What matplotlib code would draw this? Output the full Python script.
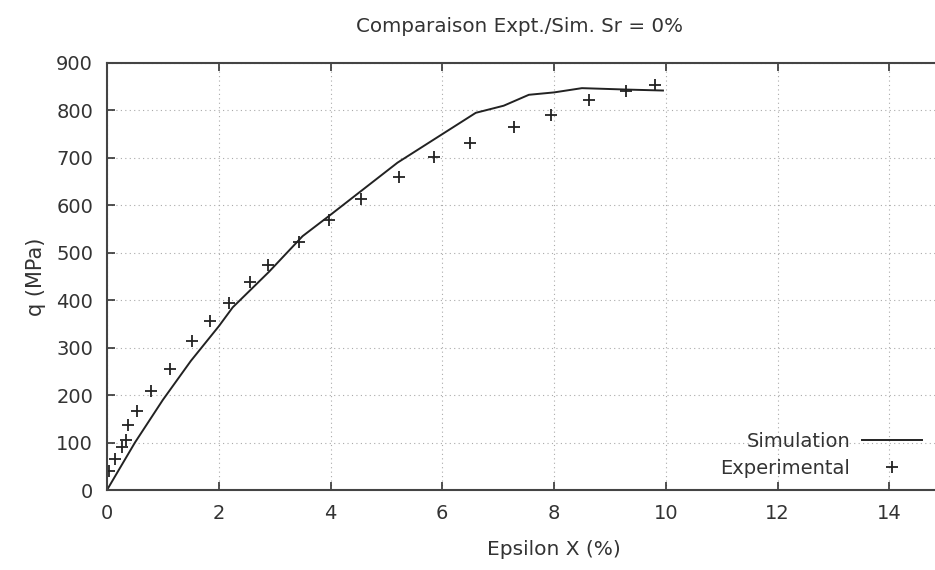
import matplotlib.pyplot as plt

sim_eps = [0, 0.5, 1.0, 1.5, 2.0, 2.25, 2.9, 3.5, 4.0, 4.6, 5.2, 5.8, 6.6, 7.1, 7.55, 8.0, 8.5, 9.3, 9.95]
sim_q = [0, 100, 190, 272, 345, 385, 460, 535, 580, 635, 690, 735, 795, 810, 833, 838, 847, 844, 842]

exp_eps = [0.04, 0.14, 0.26, 0.34, 0.37, 0.53, 0.79, 1.13, 1.52, 1.84, 2.19, 2.56, 2.89, 3.43,
           3.98, 4.54, 5.23, 5.86, 6.49, 7.28, 7.94, 8.63, 9.28, 9.80]
exp_q = [41, 66, 90, 105, 137, 166, 209, 256, 313, 357, 395, 438, 474, 523,
         569, 613, 660, 701, 731, 766, 790, 822, 840, 854]

xticks = [0, 2, 4, 6, 8, 10, 12, 14]
yticks = [0, 100, 200, 300, 400, 500, 600, 700, 800, 900]

fig = plt.figure(figsize=(9.35, 5.7), dpi=100)
# axes run past the right edge of the picture, as in the reference crop
ax = fig.add_axes([107 / 935, 80 / 570, 894 / 935, 427 / 570])

ax.plot(sim_eps, sim_q, color='#222222', linewidth=1.4, label='Simulation')
ax.plot(exp_eps, exp_q, linestyle='none', marker='+', markersize=9, markeredgewidth=1.3,
        color='#222222', label='Experimental')

ax.set_xlim(0, 16)
ax.set_ylim(0, 900)
ax.set_xticks(xticks)
ax.set_yticks(yticks)
ax.tick_params(direction='in', length=6, width=1.2, top=True, right=True,
               labelsize=14, colors='#333333', pad=10)
ax.grid(True, linestyle=(0, (1, 3)), color='#aaaaaa', linewidth=0.8)
for s in ax.spines.values():
    s.set_color('#444444')
    s.set_linewidth(1.5)

ax.set_xlabel('Epsilon X (%)', fontsize=14.5, color='#333333', labelpad=12)
ax.set_ylabel('q (MPa)', fontsize=15, color='#333333', labelpad=7)
fig.text(520 / 935, 1 - 27 / 570, 'Comparaison Expt./Sim. Sr = 0%', ha='center', va='center',
         fontsize=14.3, color='#333333')

leg = ax.legend(loc='lower right', bbox_to_anchor=(922 / 935, 92 / 570), bbox_transform=fig.transFigure,
                frameon=False, markerfirst=False, handlelength=3.1, fontsize=14,
                labelspacing=0.4, borderaxespad=0, borderpad=0, handletextpad=0.6)
for t in leg.get_texts():
    t.set_color('#333333')
    t.set_ha('right')

fig.savefig('out.png', dpi=100)
